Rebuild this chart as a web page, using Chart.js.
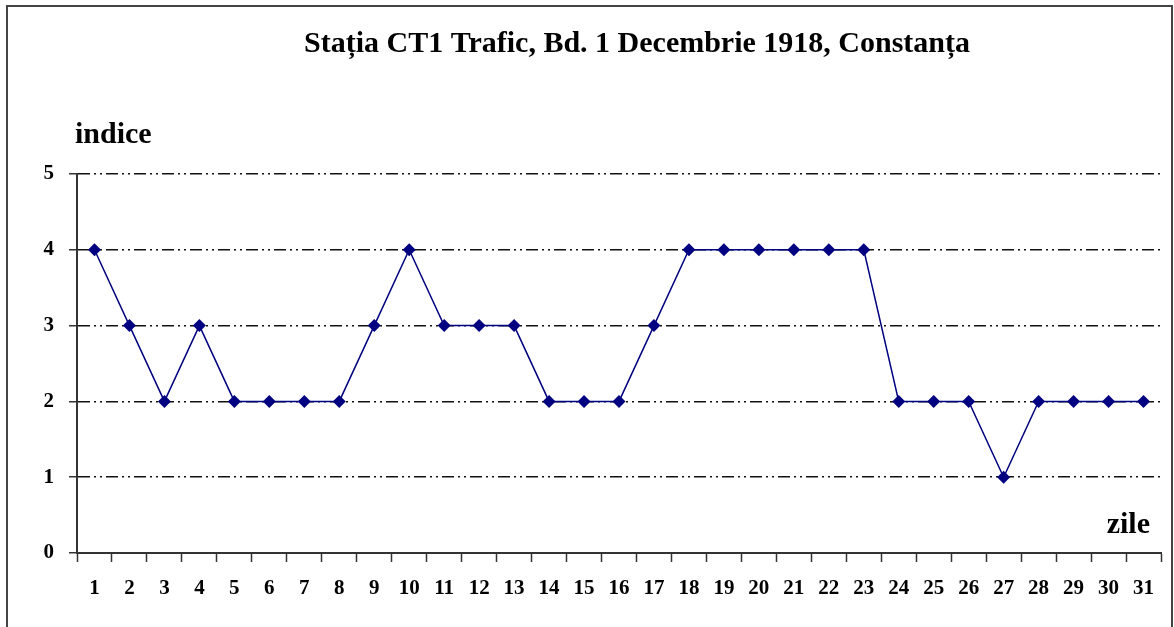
<!DOCTYPE html>
<html>
<head>
<meta charset="utf-8">
<script src="https://cdn.jsdelivr.net/npm/chart.js@4"></script>
<style>
html,body{margin:0;padding:0;background:#fff;}
#wrap{width:1174px;height:627px;position:relative;}
</style>
</head>
<body>
<div id="wrap"><canvas id="c" width="1174" height="627"></canvas></div>
<script>
const titleText = "Stația CT1 Trafic, Bd. 1 Decembrie 1918, Constanța";
const yAxisTitle = "indice";
const xAxisTitle = "zile";
const days = ["1","2","3","4","5","6","7","8","9","10","11","12","13","14","15","16","17","18","19","20","21","22","23","24","25","26","27","28","29","30","31"];
const indexValues = [4,3,2,3,2,2,2,2,3,4,3,3,3,2,2,2,3,4,4,4,4,4,4,2,2,2,1,2,2,2,2];
const yTicks = [0,1,2,3,4,5];

const serif = "'Liberation Serif', 'DejaVu Serif', serif";

const decor = {
  id: 'decor',
  beforeDraw(chart) {
    const ctx = chart.ctx;
    ctx.save();
    ctx.strokeStyle = '#444';
    ctx.lineWidth = 2;
    ctx.strokeRect(7, 6, 1165, 640);
    ctx.restore();
  },
  afterDraw(chart) {
    const ctx = chart.ctx;
    const a = chart.chartArea;
    ctx.save();
    ctx.fillStyle = '#000';
    ctx.textBaseline = 'alphabetic';
    ctx.font = "bold 30px " + serif;
    ctx.textAlign = 'center';
    ctx.fillText(titleText, 637, 52);
    ctx.textAlign = 'left';
    ctx.fillText(yAxisTitle, a.left - 2, a.top - 31);
    ctx.textAlign = 'right';
    ctx.fillText(xAxisTitle, a.right - 11, a.bottom - 20);
    ctx.restore();
  }
};

new Chart(document.getElementById('c'), {
  type: 'line',
  data: {
    labels: days,
    datasets: [{
      data: indexValues,
      borderColor: '#000080',
      backgroundColor: '#000080',
      borderWidth: 1.5,
      pointStyle: 'rectRot',
      pointRadius: 6.5,
      pointHoverRadius: 6.5,
      pointBorderWidth: 0,
      tension: 0,
      fill: false
    }]
  },
  options: {
    responsive: false,
    animation: false,
    devicePixelRatio: 1,
    layout: { padding: { left: 0, right: 13, top: 174, bottom: 0 } },
    plugins: {
      legend: { display: false },
      tooltip: { enabled: false },
      title: { display: false }
    },
    scales: {
      x: {
        type: 'category',
        offset: true,
        afterFit(s) { s.height = 74; },
        border: { display: true, color: '#333', width: 2 },
        grid: { display: true, drawOnChartArea: false, drawTicks: true, offset: true, tickLength: 9, tickColor: '#333', tickWidth: 1.5 },
        ticks: { color: '#000', font: { family: serif, size: 21, weight: 'bold' }, padding: 14, maxRotation: 0, autoSkip: false }
      },
      y: {
        min: 0, max: 5,
        afterFit(s) { s.width = 77; },
        afterBuildTicks(s) { s.ticks = yTicks.map(v => ({ value: v })); },
        border: { display: true, color: '#333', width: 2, dash: [12, 4, 2, 4, 2, 4] },
        grid: { display: true, color: '#111', lineWidth: 1.5, tickBorderDash: [], tickColor: '#333', tickWidth: 1.5, tickLength: 8, drawTicks: true },
        ticks: { color: '#000', font: { family: serif, size: 21, weight: 'bold' }, padding: 15 }
      }
    }
  },
  plugins: [decor]
});
</script>
</body>
</html>
